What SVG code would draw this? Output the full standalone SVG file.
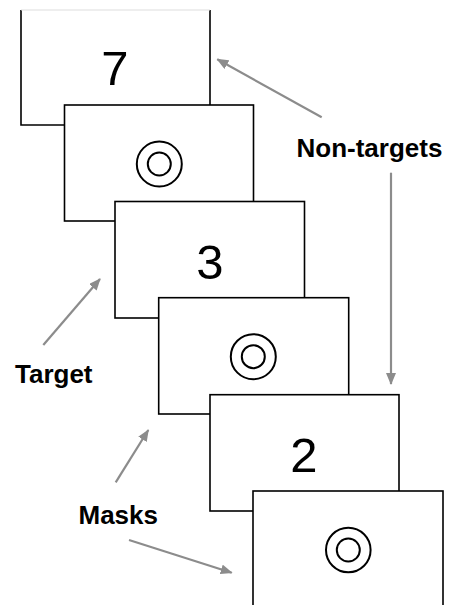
<svg xmlns="http://www.w3.org/2000/svg" width="454" height="605" viewBox="0 0 454 605">
<style>
.card{fill:#fff;stroke:#000;stroke-width:1.6}
.num{font-family:"Liberation Sans",Arial,sans-serif;font-size:49px;fill:#000;text-anchor:middle}
.lbl{font-family:"Liberation Sans",Arial,sans-serif;font-size:26px;font-weight:bold;fill:#000}
.ring{fill:none;stroke:#000;stroke-width:2}
.conn{stroke:#8c8c8c;stroke-width:2.2;fill:none}
</style>
<defs>
<marker id="ah" markerUnits="userSpaceOnUse" markerWidth="12" markerHeight="10" refX="11" refY="5" orient="auto">
<path d="M0,0 L12,5 L0,10 Z" fill="#8c8c8c"/>
</marker>
</defs>
<rect width="454" height="605" fill="#fff"/>
<g id="card1">
<path d="M21,10 V125 H210 V10" class="card"/>
<line x1="21" y1="10" x2="210" y2="10" stroke="#ddd" stroke-width="1"/>
<text x="115" y="85" class="num">7</text>
</g>
<g id="card2">
<rect x="64.5" y="105" width="189" height="116" class="card"/>
<circle cx="159.3" cy="164" r="22.5" class="ring"/>
<circle cx="159.3" cy="164" r="11.5" class="ring"/>
</g>
<g id="card3">
<rect x="115" y="201.5" width="189.5" height="116.5" class="card"/>
<text x="210" y="279" class="num">3</text>
</g>
<g id="card4">
<rect x="158.7" y="297.7" width="190" height="116.3" class="card"/>
<circle cx="253.3" cy="356.7" r="22.5" class="ring"/>
<circle cx="253.3" cy="356.7" r="11.5" class="ring"/>
</g>
<g id="card5">
<rect x="210" y="394.7" width="189" height="116.3" class="card"/>
<text x="304" y="471.5" class="num">2</text>
</g>
<g id="card6">
<rect x="253" y="491" width="190" height="125" class="card"/>
<circle cx="348.3" cy="550" r="22.3" class="ring"/>
<circle cx="348.3" cy="550" r="11.5" class="ring"/>
</g>
<g id="label-nontargets"><text x="296.5" y="156.5" class="lbl">Non-targets</text></g>
<g id="label-target"><text x="15" y="382.5" class="lbl">Target</text></g>
<g id="label-masks"><text x="78.5" y="524" class="lbl">Masks</text></g>
<g id="connectors">
<line x1="321.7" y1="117.3" x2="217.3" y2="59.3" class="conn" marker-end="url(#ah)"/>
<line x1="391" y1="172.7" x2="391" y2="384" class="conn" marker-end="url(#ah)"/>
<line x1="43.3" y1="345" x2="100" y2="279" class="conn" marker-end="url(#ah)"/>
<line x1="115.7" y1="482.3" x2="148.3" y2="430" class="conn" marker-end="url(#ah)"/>
<line x1="129" y1="540" x2="231.7" y2="572.7" class="conn" marker-end="url(#ah)"/>
</g>
</svg>
